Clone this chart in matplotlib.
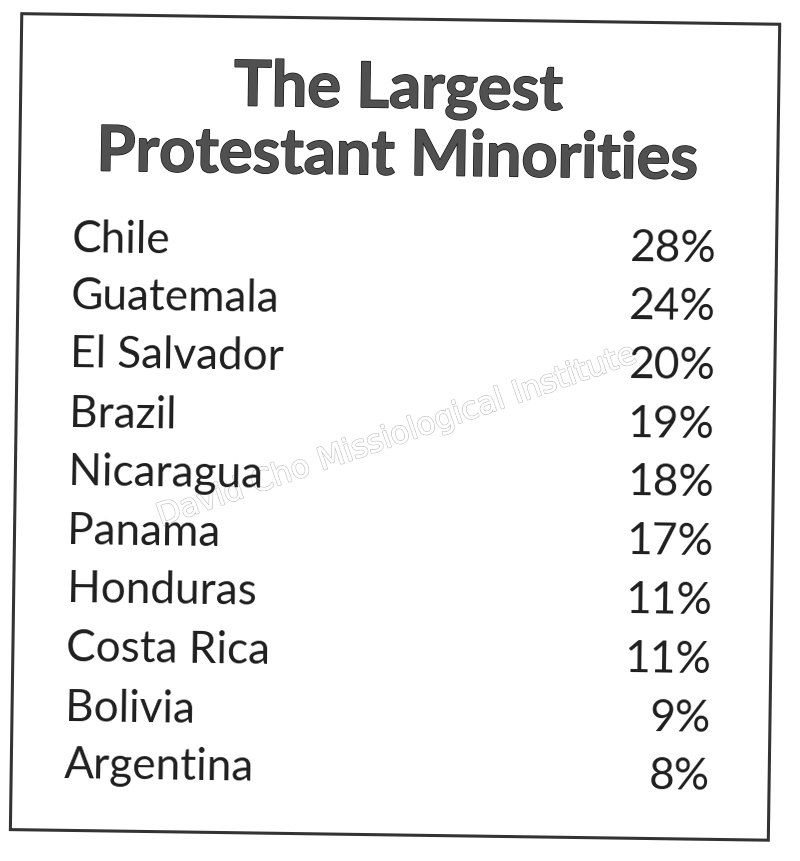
import matplotlib
matplotlib.use("Agg")
import matplotlib.pyplot as plt
import matplotlib.patheffects as pe
from matplotlib.patches import Rectangle
from matplotlib.transforms import Affine2D

titleLines = ["The Largest", "Protestant Minorities"]
countries = ["Chile", "Guatemala", "El Salvador", "Brazil", "Nicaragua",
             "Panama", "Honduras", "Costa Rica", "Bolivia", "Argentina"]
shares = [28, 24, 20, 19, 18, 17, 11, 11, 9, 8]
watermark = "David Cho Missiological Institute"

fig = plt.figure(figsize=(8, 8.61), dpi=100)
ax = fig.add_axes([0, 0, 1, 1])
ax.set_xlim(0, 800)
ax.set_ylim(861, 0)
ax.axis("off")

# the scan is tilted a little clockwise
tilt = 0.8
rot = Affine2D().rotate_deg_around(400, 430, tilt) + ax.transData

renderer = fig.canvas.get_renderer()


def fit_size(s, family, weight, target_px):
    t = fig.text(0, 0, s, fontsize=10, family=family, weight=weight)
    w = t.get_window_extent(renderer).width
    t.remove()
    return 10 * target_px / w


ax.add_patch(Rectangle((16, 19), 758, 816, fill=False, edgecolor="#333333",
                       linewidth=2.2, transform=rot))

font = "Lato"
tsize = fit_size(titleLines[1], font, "bold", 602)
for line, y in zip(titleLines, [110, 179]):
    ax.text(394, y, line, ha="center", va="baseline", fontsize=tsize,
            family=font, weight="bold", color="#505050", rotation=-tilt,
            transform=rot, zorder=3,
            path_effects=[pe.withStroke(linewidth=1.0, foreground="#151515")])

bsize = fit_size("Guatemala", font, "normal", 208)
rowTop = 257.5
rowStep = 58.7
for i, (name, val) in enumerate(zip(countries, shares)):
    y = rowTop + i * rowStep
    ax.text(69, y, name, ha="left", va="baseline", fontsize=bsize,
            family=font, color="#1e1e1e", rotation=-tilt, transform=rot,
            zorder=3)
    ax.text(715, y, f"{val}%", ha="right", va="baseline", fontsize=bsize,
            family=font, color="#1e1e1e", rotation=-tilt, transform=rot,
            zorder=3)

# outlined watermark, kept under the table text
wsize = fit_size(watermark, "DejaVu Sans", "normal", 505)
ax.text(396, 436, watermark, ha="center", va="center", fontsize=wsize,
        family="DejaVu Sans", color="white", rotation=19, zorder=1,
        path_effects=[pe.withStroke(linewidth=1.2, foreground="#c8c8c8"),
                      pe.Normal()])

fig.savefig("out.png", dpi=100, facecolor="white")
